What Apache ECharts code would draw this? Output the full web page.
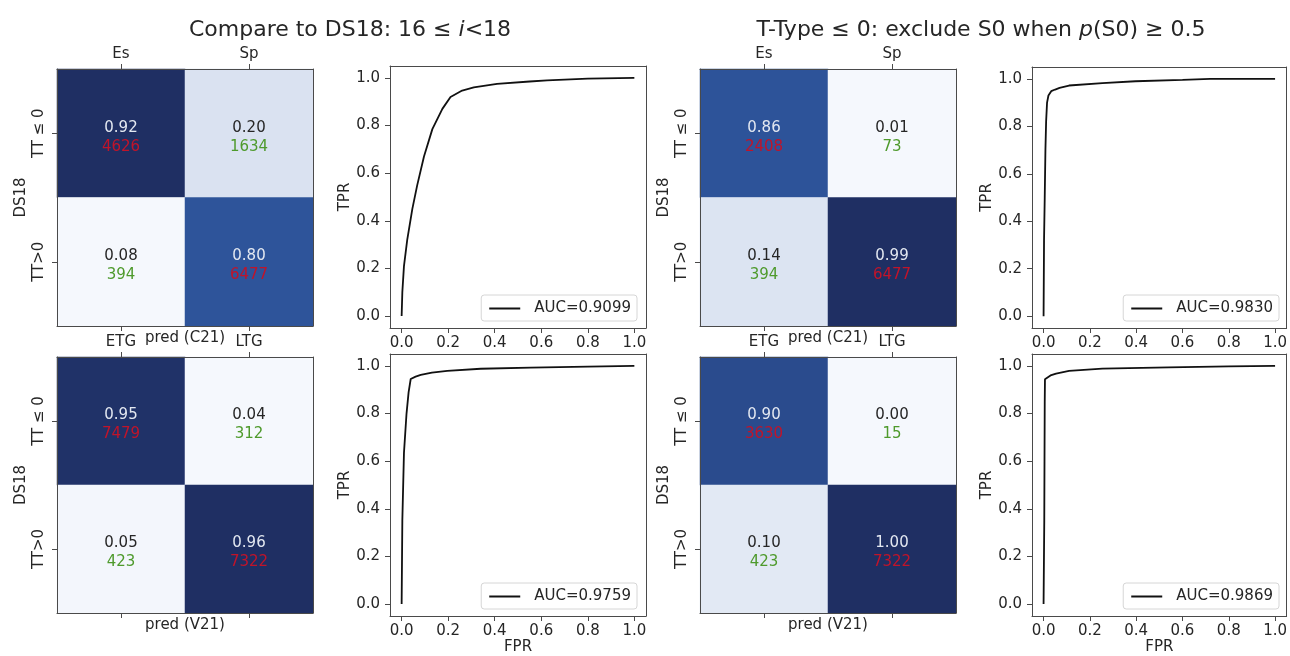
<!DOCTYPE html>
<html>
<head>
<meta charset="utf-8">
<script src="https://cdn.jsdelivr.net/npm/echarts@6/dist/echarts.min.js"></script>
<style>html,body{margin:0;padding:0;background:#fff}#c{width:1290px;height:656px}</style>
</head>
<body>
<div id="c"></div>
<script>
// ---------- data ----------
const titleLeft = 'Compare to DS18: 16 ≤ {i|i}<18';
const titleRight = 'T-Type ≤ 0: exclude S0 when {i|p}(S0) ≥ 0.5';
const hmTopLabels = ['Es', 'Sp'];
const hmBottomLabels = ['ETG', 'LTG'];
const hmYLabels = ['TT ≤ 0', 'TT>0'];
const hmYName = 'DS18';
const predNameTop = 'pred (C21)';
const predNameBottom = 'pred (V21)';

const cmTLFrac = [[0.92, 0.20], [0.08, 0.80]];
const cmTLCount = [[4626, 1634], [394, 6477]];
const cmBLFrac = [[0.95, 0.04], [0.05, 0.96]];
const cmBLCount = [[7479, 312], [423, 7322]];
const cmTRFrac = [[0.86, 0.01], [0.14, 0.99]];
const cmTRCount = [[2408, 73], [394, 6477]];
const cmBRFrac = [[0.90, 0.00], [0.10, 1.00]];
const cmBRCount = [[3630, 15], [423, 7322]];

const rocTicks = [0, 0.2, 0.4, 0.6, 0.8, 1.0];
const rocTLName = 'AUC=0.9099';
const rocTL = [[0,0],[0.003,0.10],[0.01,0.21],[0.024,0.32],[0.046,0.45],[0.067,0.55],[0.096,0.67],[0.132,0.785],[0.175,0.87],[0.21,0.92],[0.26,0.947],[0.31,0.96],[0.41,0.975],[0.55,0.985],[0.625,0.99],[0.8,0.997],[1,1]];
const rocBLName = 'AUC=0.9759';
const rocBL = [[0,0],[0.003,0.35],[0.01,0.635],[0.021,0.80],[0.03,0.89],[0.039,0.945],[0.06,0.955],[0.082,0.962],[0.13,0.972],[0.196,0.979],[0.34,0.988],[0.554,0.993],[0.8,0.997],[1,1]];
const rocTRName = 'AUC=0.9830';
const rocTR = [[0,0],[0.002,0.32],[0.005,0.5],[0.008,0.7],[0.011,0.82],[0.015,0.9],[0.021,0.93],[0.033,0.948],[0.05,0.955],[0.069,0.962],[0.11,0.972],[0.254,0.982],[0.397,0.99],[0.6,0.996],[0.72,1.0],[1,1]];
const rocBRName = 'AUC=0.9869';
const rocBR = [[0,0],[0.003,0.35],[0.004,0.6],[0.005,0.85],[0.006,0.944],[0.014,0.952],[0.03,0.96],[0.054,0.968],[0.11,0.979],[0.254,0.989],[0.54,0.994],[0.8,0.998],[1,1]];

// ---------- style ----------
const FONT = 'DejaVu Sans';
const TXT = '#262626';
const FRAME = '#4a4a4a';
const BLUES = ['#f5f8fd','#dde5f2','#c5d3ea','#9fb8dc','#7194c8','#4c74b4','#3560a6','#2d5298','#1f2f63'];

const grids = [], xAxes = [], yAxes = [], series = [], visualMaps = [], legends = [];

function lineStyle() { return { color: FRAME, width: 1 }; }

function addHeatmap(rect, topLabels, xName, frac, count) {
  const gi = grids.length;
  grids.push({ left: rect[0], top: rect[1], width: rect[2], height: rect[3] });
  const xi = xAxes.length;
  xAxes.push({ gridIndex: gi, type: 'category', position: 'top', data: topLabels, z: 5,
    axisLine: { show: true, lineStyle: lineStyle() },
    axisTick: { show: true, alignWithLabel: true, length: 5, lineStyle: lineStyle() },
    axisLabel: { color: TXT, fontSize: 15, margin: 7, fontFamily: FONT },
    splitLine: { show: false } });
  xAxes.push({ gridIndex: gi, type: 'category', position: 'bottom', data: topLabels, z: 5,
    axisLine: { show: true, lineStyle: lineStyle() },
    axisTick: { show: true, alignWithLabel: true, length: 5, lineStyle: lineStyle() },
    axisLabel: { show: false }, splitLine: { show: false },
    name: xName, nameLocation: 'middle', nameGap: 5,
    nameTextStyle: { color: TXT, fontSize: 15, fontFamily: FONT } });
  const yi = yAxes.length;
  yAxes.push({ gridIndex: gi, type: 'category', position: 'left', inverse: true, data: hmYLabels, z: 5,
    axisLine: { show: true, lineStyle: lineStyle() },
    axisTick: { show: true, alignWithLabel: true, length: 5, lineStyle: lineStyle() },
    axisLabel: { color: TXT, fontSize: 15, rotate: 90, margin: 10, fontFamily: FONT },
    splitLine: { show: false },
    name: hmYName, nameLocation: 'middle', nameGap: 28,
    nameTextStyle: { color: TXT, fontSize: 15, fontFamily: FONT } });
  yAxes.push({ gridIndex: gi, type: 'category', position: 'right', inverse: true, data: hmYLabels, z: 5,
    axisLine: { show: true, lineStyle: lineStyle() },
    axisTick: { show: false }, axisLabel: { show: false }, splitLine: { show: false } });
  const flat = [].concat(...frac);
  const mn = Math.min(...flat), mx = Math.max(...flat);
  const data = [];
  for (let r = 0; r < 2; r++) for (let c = 0; c < 2; c++) data.push([c, r, frac[r][c], count[r][c]]);
  series.push({ type: 'heatmap', xAxisIndex: xi, yAxisIndex: yi, data,
    emphasis: { disabled: true },
    label: { show: true, offset: [0, 4],
      formatter: p => {
        const v = p.value;
        const t = (v[2] - mn) / (mx - mn);
        return '{' + (t > 0.5 ? 'vl' : 'vd') + '|' + v[2].toFixed(2) + '}\n{' + (v[0] === v[1] ? 'cr' : 'cg') + '|' + v[3] + '}';
      },
      rich: {
        vl: { color: '#e3e8f1', fontSize: 15, lineHeight: 19, fontFamily: FONT },
        vd: { color: TXT, fontSize: 15, lineHeight: 19, fontFamily: FONT },
        cr: { color: '#c0142a', fontSize: 15, lineHeight: 19, fontFamily: FONT },
        cg: { color: '#4e9a2c', fontSize: 15, lineHeight: 19, fontFamily: FONT }
      } } });
  visualMaps.push({ type: 'continuous', show: false, seriesIndex: series.length - 1, dimension: 2,
    min: mn, max: mx, inRange: { color: BLUES } });
}

function addRoc(rect, data, name, showXName, legendRight, legendTop) {
  const gi = grids.length;
  grids.push({ left: rect[0], top: rect[1], width: rect[2], height: rect[3] });
  const xi = xAxes.length;
  xAxes.push({ gridIndex: gi, type: 'value', position: 'bottom', min: -0.05, max: 1.05, z: 5,
    axisLine: { show: true, onZero: false, lineStyle: lineStyle() },
    axisTick: { show: true, customValues: rocTicks, length: 5, lineStyle: lineStyle() },
    axisLabel: { customValues: rocTicks, formatter: v => v.toFixed(1), color: TXT, fontSize: 15, margin: 8, fontFamily: FONT },
    splitLine: { show: false },
    name: showXName ? 'FPR' : '', nameLocation: 'middle', nameGap: 24,
    nameTextStyle: { color: TXT, fontSize: 15, fontFamily: FONT } });
  xAxes.push({ gridIndex: gi, type: 'value', position: 'top', min: -0.05, max: 1.05, z: 5,
    axisLine: { show: true, onZero: false, lineStyle: lineStyle() },
    axisTick: { show: false }, axisLabel: { show: false }, splitLine: { show: false } });
  const yi = yAxes.length;
  yAxes.push({ gridIndex: gi, type: 'value', position: 'left', min: -0.05, max: 1.05, z: 5,
    axisLine: { show: true, onZero: false, lineStyle: lineStyle() },
    axisTick: { show: true, customValues: rocTicks, length: 5, lineStyle: lineStyle() },
    axisLabel: { customValues: rocTicks, formatter: v => v.toFixed(1), color: TXT, fontSize: 15, margin: 10, fontFamily: FONT },
    splitLine: { show: false },
    name: 'TPR', nameLocation: 'middle', nameGap: 36,
    nameTextStyle: { color: TXT, fontSize: 15, fontFamily: FONT } });
  yAxes.push({ gridIndex: gi, type: 'value', position: 'right', min: -0.05, max: 1.05, z: 5,
    axisLine: { show: true, onZero: false, lineStyle: lineStyle() },
    axisTick: { show: false }, axisLabel: { show: false }, splitLine: { show: false } });
  series.push({ type: 'line', name, data, xAxisIndex: xi, yAxisIndex: yi,
    symbol: 'none', lineStyle: { color: '#111', width: 1.8 }, itemStyle: { color: '#111' } });
  legends.push({ data: [{ name, icon: 'rect' }], right: legendRight, top: legendTop, selectedMode: false,
    itemWidth: 31, itemHeight: 2, padding: [6, 6, 5, 8],
    itemStyle: { color: '#111' },
    borderColor: '#d6d6d6', borderWidth: 1, borderRadius: 3, backgroundColor: 'rgba(255,255,255,0.85)',
    textStyle: { color: TXT, fontSize: 15, fontFamily: FONT, padding: [0, 0, 0, 9] } });
}

addHeatmap([57, 69, 256, 257], hmTopLabels, predNameTop, cmTLFrac, cmTLCount);
addRoc([390, 66, 256, 262], rocTL, rocTLName, false, 653, 295);
addHeatmap([57, 357, 256, 256], hmBottomLabels, predNameBottom, cmBLFrac, cmBLCount);
addRoc([390, 354, 256, 262], rocBL, rocBLName, true, 653, 583);
addHeatmap([700, 69, 256, 257], hmTopLabels, predNameTop, cmTRFrac, cmTRCount);
addRoc([1032, 67, 256, 261], rocTR, rocTRName, false, 11, 295);
addHeatmap([700, 357, 256, 256], hmBottomLabels, predNameBottom, cmBRFrac, cmBRCount);
addRoc([1032, 354, 256, 262], rocBR, rocBRName, true, 11, 583);

const chart = echarts.init(document.getElementById('c'));
chart.setOption({
  animation: false,
  backgroundColor: '#fff',
  textStyle: { fontFamily: FONT },
  title: [
    { text: titleLeft, left: 345, top: 14, textAlign: 'center',
      textStyle: { fontSize: 22, fontWeight: 'normal', color: TXT, fontFamily: FONT,
        rich: { i: { fontStyle: 'italic', fontSize: 22, color: TXT, fontFamily: FONT } } } },
    { text: titleRight, left: 976, top: 14, textAlign: 'center',
      textStyle: { fontSize: 22, fontWeight: 'normal', color: TXT, fontFamily: FONT,
        rich: { i: { fontStyle: 'italic', fontSize: 22, color: TXT, fontFamily: FONT } } } }
  ],
  grid: grids, xAxis: xAxes, yAxis: yAxes, visualMap: visualMaps, legend: legends, series
});
</script>
</body>
</html>
